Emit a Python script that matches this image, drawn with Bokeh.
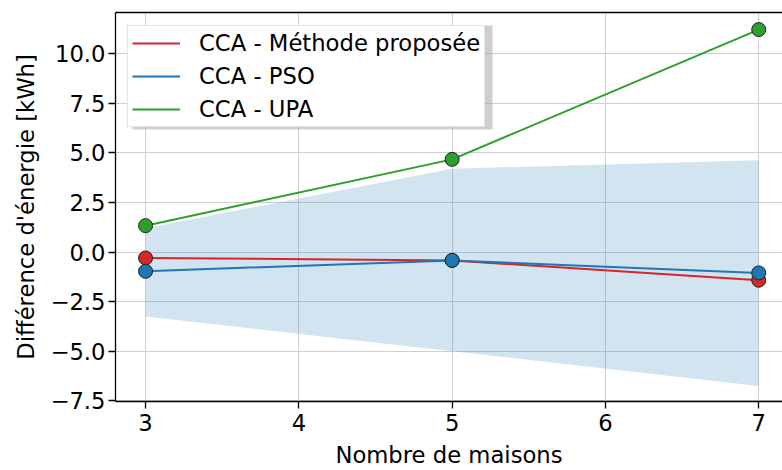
from bokeh.plotting import figure
from bokeh.models import (Range1d, FixedTicker, CustomJSTickFormatter, LinearAxis,
                          Legend, LegendItem, BoxAnnotation)
from bokeh.embed import file_html
from bokeh.resources import INLINE

houses = [3, 5, 7]
proposed = [-0.30, -0.42, -1.42]
pso = [-0.97, -0.42, -1.05]
upa = [1.33, 4.67, 11.21]
band_upper = [1.20, 4.20, 4.63]
band_lower = [-3.25, -5.00, -6.75]

x_ticks = [3, 4, 5, 6, 7]
y_ticks = [-7.5, -5.0, -2.5, 0.0, 2.5, 5.0, 7.5, 10.0]

FONT = "DejaVu Sans"
FS = "22.7px"

p = figure(width=782, height=470, output_backend="svg", toolbar_location=None,
           x_range=Range1d(2.804, 7.155), y_range=Range1d(-7.53, 12.07),
           min_border_left=115, min_border_right=0, min_border_top=12,
           min_border_bottom=66, background_fill_color="white",
           border_fill_color="white")
p.outline_line_color = None

# grid
for g in (p.xgrid, p.ygrid):
    g.grid_line_color = "#d0d0d0"
    g.grid_line_width = 1
p.xgrid.ticker = FixedTicker(ticks=x_ticks)
p.ygrid.ticker = FixedTicker(ticks=y_ticks)

# axes
p.xaxis.ticker = FixedTicker(ticks=x_ticks)
p.yaxis.ticker = FixedTicker(ticks=y_ticks)
p.xaxis.formatter = CustomJSTickFormatter(code="return tick.toFixed(0);")
p.yaxis.formatter = CustomJSTickFormatter(
    code="return (tick < 0 ? '\\u2212' : '') + Math.abs(tick).toFixed(1);")
p.xaxis.axis_label = "Nombre de maisons"
p.yaxis.axis_label = "Différence d'énergie [kWh]"
for ax in (p.xaxis[0], p.yaxis[0]):
    ax.axis_line_color = "black"
    ax.axis_line_width = 1.3
    ax.major_tick_line_color = "black"
    ax.major_tick_line_width = 1.3
    ax.major_tick_out = 7
    ax.major_tick_in = 0
    ax.minor_tick_out = 0
    ax.minor_tick_in = 0
    ax.major_label_text_font = FONT
    ax.major_label_text_font_size = FS
    ax.major_label_text_color = "black"
    ax.axis_label_text_font = FONT
    ax.axis_label_text_font_size = FS
    ax.axis_label_text_font_style = "normal"
    ax.axis_label_text_color = "black"
p.yaxis.major_label_standoff = 3
p.xaxis.major_label_standoff = 5
p.yaxis.axis_label_standoff = 8
p.xaxis.axis_label_standoff = 8

top = LinearAxis(ticker=FixedTicker(ticks=[]), major_tick_out=0, major_tick_in=0,
                 minor_tick_out=0, minor_tick_in=0, major_label_text_font_size="0px",
                 axis_line_color="black", axis_line_width=1.3)
p.add_layout(top, "above")

# band
p.varea(x=houses, y1=band_lower, y2=band_upper, fill_color="#1f77b4", fill_alpha=0.2)

series = [("CCA - Méthode proposée", proposed, "#d62728"),
          ("CCA - PSO", pso, "#1f77b4"),
          ("CCA - UPA", upa, "#2ca02c")]
items = []
for name, ys, col in series:
    ln = p.line(houses, ys, line_color=col, line_width=2)
    p.scatter(houses, ys, size=14, fill_color=col, line_color="#222222", line_width=1)
    items.append(LegendItem(label=name, renderers=[ln]))

# legend shadow (frame-relative screen units)
shadow = BoxAnnotation(left=17, right=377, bottom=272, top=376,
                       left_units="screen", right_units="screen",
                       bottom_units="screen", top_units="screen",
                       fill_color="#a0a0a0", fill_alpha=0.5, line_color=None)
p.add_layout(shadow)

legend = Legend(items=items, location=(12, 274), margin=0, padding=4, spacing=7,
                glyph_width=48, glyph_height=26, label_height=26, label_standoff=19,
                label_text_font=FONT, label_text_font_size=FS, label_text_color="black",
                border_line_color="#c8c8c8", border_line_width=1.2,
                background_fill_color="white", background_fill_alpha=1)
p.add_layout(legend, "center")

open("out.html", "w").write(file_html(p, INLINE))
